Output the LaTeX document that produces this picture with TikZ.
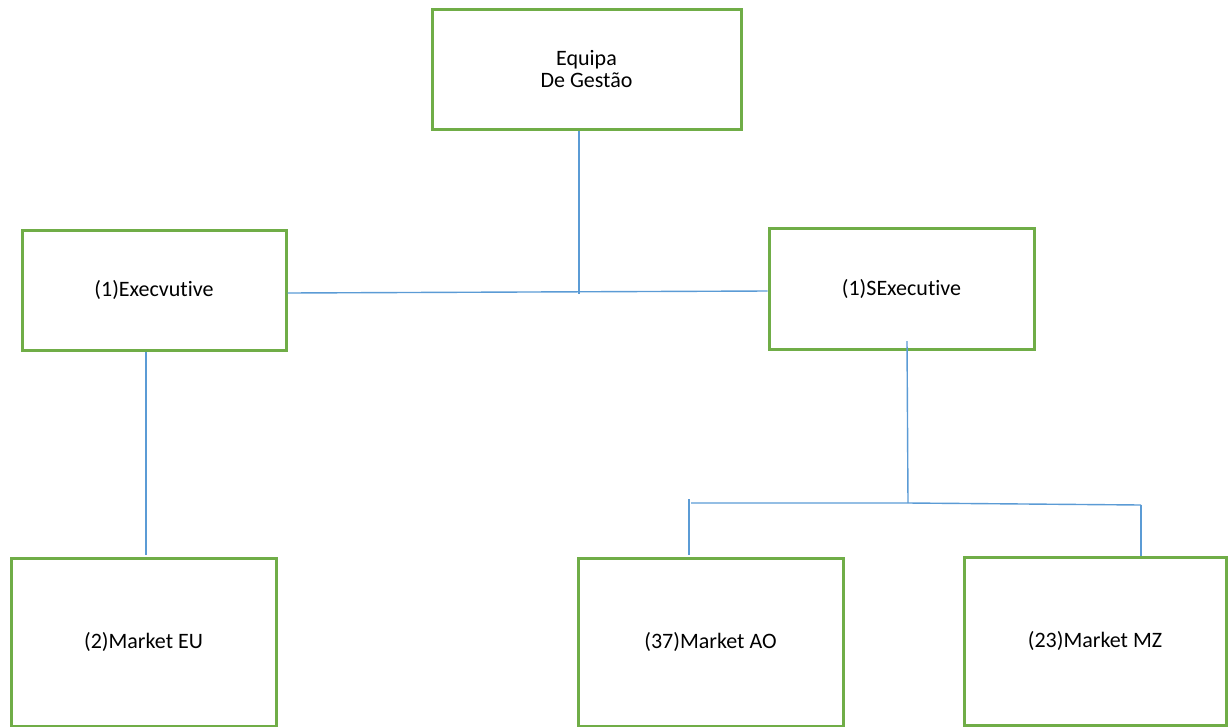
\documentclass[tikz,border=0pt]{standalone}
\usepackage{fontspec}
\setmainfont{Carlito}[RawFeature=-liga]
\definecolor{boxgreen}{RGB}{112,173,71}
\definecolor{lineblue}{RGB}{91,155,213}
\begin{document}
\begin{tikzpicture}[x=1pt,y=-1pt,
  orgbox/.style={draw=boxgreen, line width=3pt, fill=white, inner sep=0pt, align=center,
    font=\fontsize{22}{22}\selectfont},
  conn/.style={draw=lineblue, line width=1.4pt}]
\useasboundingbox (0,0) rectangle (1228,726);
% boxes (centre, width, height in px)
\node[orgbox, minimum width=309pt, minimum height=120pt] (top) at (586.5,69) {Equipa\\De Gestão};
\node[orgbox, minimum width=264pt, minimum height=120pt] (exec) at (154,290) {(1)Execvutive};
\node[orgbox, minimum width=265pt, minimum height=121pt] (sexec) at (901.5,288.5) {(1)SExecutive};
\node[orgbox, minimum width=265pt, minimum height=168pt] (eu) at (143.5,642) {(2)Market EU};
\node[orgbox, minimum width=265pt, minimum height=168pt] (ao) at (710.5,642) {(37)Market AO};
\node[orgbox, minimum width=262pt, minimum height=168pt] (mz) at (1095,641) {(23)Market MZ};
% connector coordinates
\coordinate (tj) at (579,294);
\coordinate (sj) at (908,503);
\coordinate (aoj) at (691,503);
\coordinate (mzj) at (1141,505);
% connectors
\draw[conn] (579,131) -- (tj);
\draw[conn] (exec.east |- 0,293) -- (sexec.west |- 0,291);
\draw[conn] (146,352) -- (146,555);
\draw[conn] (907,341) -- (sj);
\draw[conn] (aoj) -- (sj) -- (mzj);
\draw[conn] (689,499) -- (689,555);
\draw[conn] (mzj) -- (1141,556);
\end{tikzpicture}
\end{document}
